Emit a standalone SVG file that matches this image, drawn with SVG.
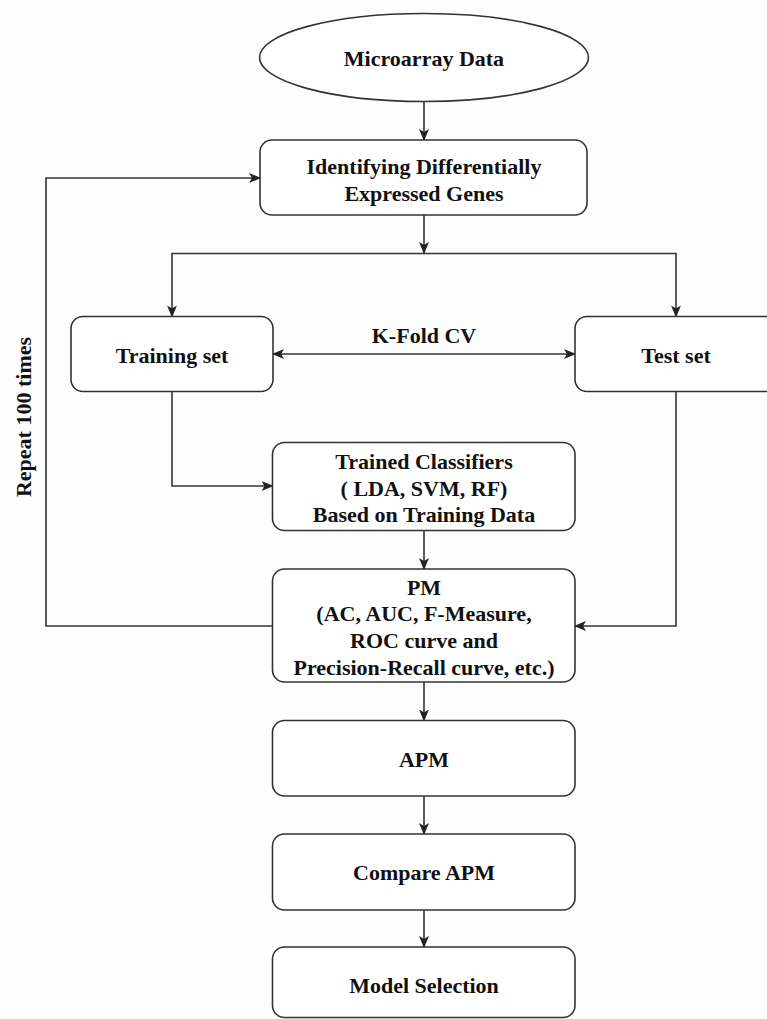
<svg xmlns="http://www.w3.org/2000/svg" width="767" height="1019" viewBox="0 0 767 1019">
<style>
.box{fill:#ffffff;stroke:#333333;stroke-width:1.6}
.t{font-family:"Liberation Serif","Times New Roman",serif;font-weight:bold;font-size:22px;fill:#111111;text-anchor:middle;dominant-baseline:central}
.c{fill:none;stroke:#333333;stroke-width:1.6}
</style>
<defs>
<marker id="arr" viewBox="0 0 12 10" refX="11" refY="5" markerWidth="12" markerHeight="10" markerUnits="userSpaceOnUse" orient="auto-start-reverse">
<path d="M0,0 L12,5 L0,10 L3,5 z" fill="#222222"/>
</marker>
</defs>
<rect width="767" height="1019" fill="#fdfdfd"/>
<g id="connectors">
<path class="c" d="M424,102 V140" marker-end="url(#arr)"/>
<path class="c" d="M273,626 H46 V178 H260" marker-end="url(#arr)"/>
<path class="c" d="M424,215 V253" marker-end="url(#arr)"/>
<path class="c" d="M424,253.5 H172 V316.5" marker-end="url(#arr)"/>
<path class="c" d="M424,253.5 H676 V316.5" marker-end="url(#arr)"/>
<path class="c" d="M273,354 H575" marker-start="url(#arr)" marker-end="url(#arr)"/>
<path class="c" d="M172,392 V486 H272.5" marker-end="url(#arr)"/>
<path class="c" d="M424,531 V569" marker-end="url(#arr)"/>
<path class="c" d="M676,392 V626 H575" marker-end="url(#arr)"/>
<path class="c" d="M424,682 V720.5" marker-end="url(#arr)"/>
<path class="c" d="M424,796 V834" marker-end="url(#arr)"/>
<path class="c" d="M424,910 V947" marker-end="url(#arr)"/>
</g>
<g id="microarray">
<ellipse class="box" cx="424" cy="57.5" rx="164.5" ry="44"/>
<text class="t" x="424" y="58">Microarray Data</text>
</g>
<g id="identifying">
<rect class="box" x="260" y="140" width="327" height="75" rx="12"/>
<text class="t" x="424" y="166">Identifying Differentially</text>
<text class="t" x="424" y="193">Expressed Genes</text>
</g>
<g id="training">
<rect class="box" x="71" y="316.5" width="202" height="75" rx="12"/>
<text class="t" x="172" y="355">Training set</text>
</g>
<g id="kfold">
<text class="t" x="424" y="335">K-Fold CV</text>
</g>
<g id="test">
<rect class="box" x="575" y="316.5" width="202" height="75" rx="12"/>
<text class="t" x="676" y="355">Test set</text>
</g>
<g id="trained">
<rect class="box" x="272.5" y="442.5" width="302.5" height="88" rx="12"/>
<text class="t" x="424" y="461">Trained Classifiers</text>
<text class="t" x="424" y="488">( LDA, SVM, RF)</text>
<text class="t" x="424" y="514">Based on Training Data</text>
</g>
<g id="pm">
<rect class="box" x="272.5" y="569" width="302.5" height="113" rx="12"/>
<text class="t" x="424" y="587">PM</text>
<text class="t" x="424" y="613">(AC, AUC, F-Measure,</text>
<text class="t" x="424" y="640">ROC curve and</text>
<text class="t" x="424" y="667">Precision-Recall curve, etc.)</text>
</g>
<g id="apm">
<rect class="box" x="272.5" y="720.5" width="302.5" height="75.5" rx="12"/>
<text class="t" x="424" y="759">APM</text>
</g>
<g id="compare">
<rect class="box" x="272.5" y="834" width="302.5" height="76" rx="12"/>
<text class="t" x="424" y="872">Compare APM</text>
</g>
<g id="model">
<rect class="box" x="272.5" y="947" width="302.5" height="70.5" rx="12"/>
<text class="t" x="424" y="985">Model Selection</text>
</g>
<g id="repeat">
<text class="t" transform="translate(23,417) rotate(-90)">Repeat 100 times</text>
</g>
</svg>
